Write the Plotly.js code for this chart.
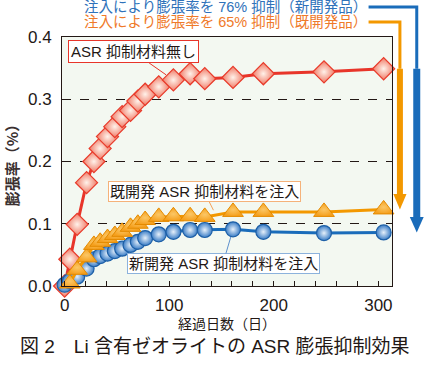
<!DOCTYPE html>
<html>
<head>
<meta charset="utf-8">
<script src="https://cdn.plot.ly/plotly-3.0.1.min.js"></script>
<style>html,body{margin:0;padding:0;background:#fff;}#chart{width:430px;height:374px;}</style>
</head>
<body>
<div id="chart"></div>
<script>
// ---- data ----
const days       = [0, 5, 12, 21, 28, 34, 41, 48, 55, 63, 70, 77, 90, 104, 120, 134, 161, 190, 248, 305];
const noMaterial = [0, 0.043, 0.099, 0.166, 0.200, 0.221, 0.240, 0.256, 0.272, 0.282, 0.297, 0.308, 0.320, 0.331, 0.341, 0.333, 0.335, 0.341, 0.344, 0.349];
const existingMat= [-0.003, 0.004, 0.026, 0.046, 0.066, 0.071, 0.077, 0.082, 0.087, 0.095, 0.100, 0.106, 0.111, 0.112, 0.112, 0.111, 0.119, 0.119, 0.119, 0.123];
const newMat     = [0.002, 0.008, 0.015, 0.028, 0.043, 0.048, 0.052, 0.056, 0.060, 0.066, 0.071, 0.077, 0.083, 0.087, 0.090, 0.090, 0.091, 0.087, 0.085, 0.086];
const xTicks = [0, 100, 200, 300];
const yMax = 0.4;

const labelNone = 'ASR 抑制材料無し';
const labelExisting = '既開発 ASR 抑制材料を注入';
const labelNew = '新開発 ASR 抑制材料を注入';
const noteNew = '注入により膨張率を 76% 抑制（新開発品）';
const noteExisting = '注入により膨張率を 65% 抑制（既開発品）';
const xTitle = '経過日数（日）';
const yTitle = '膨張率（%）';
const caption = '図 2　Li 含有ゼオライトの ASR 膨張抑制効果';

const FONT = 'Liberation Sans, Arial, Noto Sans CJK JP, sans-serif';
const INK = '#231815';
const RED = '#e8352a', ORANGE = '#f39800', BLUE = '#1a6cba';

const traces = [
  {x: days, y: noMaterial, mode: 'lines+markers', cliponaxis: false,
   line: {color: RED, width: 3},
   marker: {symbol: 'diamond', size: 17, color: '#f07a66', gradient: {type: 'radial', color: '#fff2ea'},
            line: {color: '#e83a2a', width: 1.2}}},
  {x: days, y: newMat, mode: 'lines+markers', cliponaxis: false,
   line: {color: BLUE, width: 3},
   marker: {symbol: 'circle', size: 15, color: '#3a7dc6', gradient: {type: 'radial', color: '#e6f0fa'},
            line: {color: '#1d5fa6', width: 1.2}}},
  {x: days, y: existingMat, mode: 'lines+markers', cliponaxis: false,
   line: {color: ORANGE, width: 3},
   marker: {symbol: 'triangle-up', size: 18, color: '#f5a01e', gradient: {type: 'radial', color: '#fbc766'},
            line: {color: '#e48a00', width: 1}}}
];

const last = days.length - 1;
const yRedP = noMaterial[last] / yMax;
const yBlueP = newMat[last] / yMax;
const yOrP = existingMat[last] / yMax;
const bx = 1.075, ox = 1.024, tx = 0.929;
const byTop = 1.1205, oyTop = 1.060;
const headH = 0.062, headWb = 0.021, headWo = 0.020;

const shapes = [
  {type: 'path', xref: 'paper', yref: 'paper', path: `M ${tx},${byTop} L ${bx},${byTop} L ${bx},${yRedP}`,
   line: {color: BLUE, width: 3}},
  {type: 'line', xref: 'paper', yref: 'paper', x0: bx, x1: bx, y0: yRedP, y1: yBlueP + headH - 0.005,
   line: {color: BLUE, width: 7}},
  {type: 'path', xref: 'paper', yref: 'paper',
   path: `M ${bx - headWb},${yBlueP + headH} L ${bx + headWb},${yBlueP + headH} L ${bx},${yBlueP} Z`,
   fillcolor: BLUE, line: {width: 0}},
  {type: 'path', xref: 'paper', yref: 'paper', path: `M ${tx},${oyTop} L ${ox},${oyTop} L ${ox},${yRedP}`,
   line: {color: ORANGE, width: 3}},
  {type: 'line', xref: 'paper', yref: 'paper', x0: ox, x1: ox, y0: yRedP, y1: yOrP + headH - 0.005,
   line: {color: ORANGE, width: 6}},
  {type: 'path', xref: 'paper', yref: 'paper',
   path: `M ${ox - headWo},${yOrP + headH} L ${ox + headWo},${yOrP + headH} L ${ox},${yOrP} Z`,
   fillcolor: ORANGE, line: {width: 0}}
];

const annotations = [
  {x: days[13], y: noMaterial[13], ax: -40, ay: -28, text: labelNone, showarrow: true, arrowhead: 0,
   arrowwidth: 1, arrowcolor: RED, standoff: 9, bgcolor: '#fff', bordercolor: RED, borderwidth: 1, borderpad: 2,
   font: {size: 15, color: INK}},
  {x: 144, y: 0.116, ax: -11, ay: -22, text: labelExisting, showarrow: true, arrowhead: 0,
   arrowwidth: 1, arrowcolor: '#f3a25a', standoff: 4, bgcolor: '#fff', bordercolor: '#f5b27a', borderwidth: 1, borderpad: 1,
   font: {size: 15, color: INK}},
  {x: days[16], y: newMat[16], ax: -10, ay: 34, text: labelNew, showarrow: true, arrowhead: 0,
   arrowwidth: 1, arrowcolor: '#5d90cc', standoff: 8, bgcolor: '#fff', bordercolor: '#8cb2dc', borderwidth: 1, borderpad: 1,
   font: {size: 15, color: INK}},
  {xref: 'paper', yref: 'paper', x: tx, y: byTop, xanchor: 'right', yanchor: 'middle', showarrow: false,
   text: noteNew, font: {size: 14.5, color: '#2f72ba'}},
  {xref: 'paper', yref: 'paper', x: tx, y: oyTop, xanchor: 'right', yanchor: 'middle', showarrow: false,
   text: noteExisting, font: {size: 14.5, color: '#ef7a2a'}},
  {xref: 'paper', yref: 'paper', x: 0.4636, y: -0.241, xanchor: 'center', yanchor: 'middle', showarrow: false,
   text: caption, font: {size: 19, color: INK}}
];

const layout = {
  width: 430, height: 374,
  margin: {l: 62, r: 38, t: 37, b: 88},
  paper_bgcolor: '#ffffff', plot_bgcolor: '#f3f8f1',
  showlegend: false,
  font: {family: FONT, color: INK},
  xaxis: {range: [-2.5, 313], tickmode: 'array', tickvals: xTicks, ticktext: xTicks.map(String),
          ticks: 'inside', ticklen: 5, tickcolor: INK,
          minor: {tickmode: 'linear', tick0: 0, dtick: 20, ticks: 'inside', ticklen: 5, tickcolor: INK},
          showgrid: false, zeroline: false, showline: true, mirror: true, linecolor: INK, linewidth: 1,
          tickfont: {size: 17, color: INK}, ticklabelstandoff: 4,
          title: {text: xTitle, font: {size: 14, color: INK}, standoff: 4}},
  yaxis: {range: [0, yMax], tickmode: 'linear', tick0: 0, dtick: 0.1, tickformat: '.1f', ticks: '',
          showgrid: true, gridcolor: INK, griddash: 'dash', gridwidth: 1, zeroline: false,
          showline: true, mirror: true, linecolor: INK, linewidth: 1,
          tickfont: {size: 17, color: INK}, ticklabelstandoff: 6,
          title: {text: yTitle, font: {size: 15, color: '#3a3030', weight: 'bold', family: 'Noto Sans CJK JP'}, standoff: 5}},
  shapes: shapes,
  annotations: annotations
};

Plotly.newPlot('chart', traces, layout, {staticPlot: true, displayModeBar: false});
</script>
</body>
</html>
